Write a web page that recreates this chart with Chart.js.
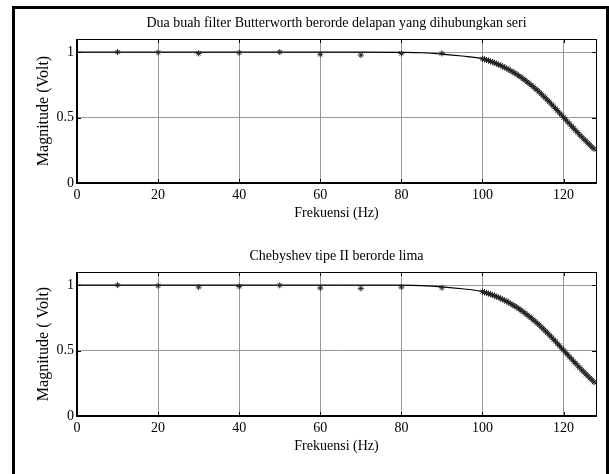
<!DOCTYPE html>
<html>
<head>
<meta charset="utf-8">
<script src="https://cdn.jsdelivr.net/npm/chart.js@4.4.1/dist/chart.umd.min.js"></script>
<style>
  html, body { margin: 0; padding: 0; background: #fff; }
  body { width: 609px; height: 474px; position: relative; overflow: hidden; }
  .plot { position: absolute; left: 0; width: 609px; height: 233px; }
  #frame { position: absolute; left: 12px; top: 6px; width: 591px; height: 480px; border: 3px solid #000; pointer-events: none; }
</style>
</head>
<body>
<div class="plot" style="top:0"><canvas id="butter-chart" width="609" height="233"></canvas></div>
<div class="plot" style="top:233px"><canvas id="cheby-chart" width="609" height="233"></canvas></div>
<div id="frame"></div>
<script>
// frequencies of the measured points (Hz)
const markerFreq = [10, 20, 30, 40, 50, 60, 70, 80, 90,
  100, 100.5, 101, 101.5, 102, 102.5, 103, 103.5, 104, 104.5,
  105, 105.5, 106, 106.5, 107, 107.5, 108, 108.5, 109, 109.5,
  110, 110.5, 111, 111.5, 112, 112.5, 113, 113.5, 114, 114.5,
  115, 115.5, 116, 116.5, 117, 117.5, 118, 118.5, 119, 119.5,
  120, 120.5, 121, 121.5, 122, 122.5, 123, 123.5, 124, 124.5,
  125, 125.5, 126, 126.5, 127, 127.5];

// measured magnitude, Butterworth (top)
const butterMarkers = [1.0, 0.997, 0.99, 0.995, 1.0, 0.983, 0.977, 0.99, 0.99,
  0.948, 0.946, 0.939, 0.936, 0.929, 0.925, 0.917, 0.912, 0.903, 0.899,
  0.889, 0.884, 0.873, 0.867, 0.856, 0.849, 0.838, 0.830, 0.817, 0.809,
  0.796, 0.786, 0.772, 0.762, 0.748, 0.737, 0.721, 0.710, 0.694, 0.681,
  0.664, 0.651, 0.634, 0.620, 0.602, 0.587, 0.569, 0.554, 0.535, 0.520,
  0.501, 0.486, 0.467, 0.452, 0.433, 0.418, 0.400, 0.385, 0.367, 0.353,
  0.335, 0.322, 0.304, 0.291, 0.274, 0.261];

// measured magnitude, Chebyshev II (bottom)
const chebyMarkers = [1.0, 0.995, 0.985, 0.99, 0.998, 0.978, 0.975, 0.985, 0.98,
  0.950, 0.944, 0.941, 0.934, 0.931, 0.923, 0.919, 0.910, 0.906, 0.897,
  0.891, 0.882, 0.876, 0.865, 0.858, 0.847, 0.840, 0.828, 0.820, 0.807,
  0.798, 0.784, 0.774, 0.760, 0.750, 0.735, 0.723, 0.708, 0.696, 0.679,
  0.666, 0.649, 0.636, 0.618, 0.604, 0.585, 0.571, 0.552, 0.537, 0.518,
  0.503, 0.484, 0.469, 0.450, 0.435, 0.416, 0.402, 0.383, 0.369, 0.351,
  0.337, 0.320, 0.306, 0.289, 0.276, 0.259];

// theoretical response curve
const curveFreq = [0, 10, 20, 30, 40, 50, 60, 70, 80, 85, 90, 95,
  100, 102, 104, 106, 108, 110, 112, 114, 116, 118, 120, 122, 124, 126, 128];
const butterCurve = [1, 1, 1, 1, 1, 1, 1, 1, 0.998, 0.995, 0.985, 0.97,
  0.95, 0.93, 0.905, 0.875, 0.839, 0.797, 0.749, 0.695, 0.635, 0.57, 0.502, 0.434, 0.368, 0.305, 0.245];
const chebyCurve = [1, 1, 1, 1, 1, 1, 1, 1, 0.999, 0.996, 0.987, 0.972,
  0.95, 0.93, 0.905, 0.875, 0.839, 0.797, 0.749, 0.695, 0.635, 0.57, 0.502, 0.434, 0.368, 0.305, 0.245];

const xTicks = [0, 20, 40, 60, 80, 100, 120];
const yTicks = [0, 0.5, 1];

Chart.defaults.font.family = "'Liberation Serif', 'DejaVu Serif', serif";
Chart.defaults.color = "#000";

const serif = (size) => ({ family: "'Liberation Serif', serif", size: size, weight: "normal" });

// MATLAB-like box with inward ticks
const boxPlugin = {
  id: "box",
  afterDraw(chart) {
    const { ctx, chartArea: a } = chart;
    const xs = chart.scales.x;
    const ys = chart.scales.y;
    ctx.save();
    ctx.strokeStyle = "#000";
    ctx.lineWidth = 1;
    ctx.strokeRect(a.left + 0.5, a.top + 0.5, a.right - a.left, a.bottom - a.top);
    ctx.beginPath();
    xTicks.forEach((v) => {
      const px = Math.round(xs.getPixelForValue(v)) + 0.5;
      ctx.moveTo(px, a.top);
      ctx.lineTo(px, a.top + 4);
      ctx.moveTo(px, a.bottom);
      ctx.lineTo(px, a.bottom - 4);
    });
    yTicks.forEach((v) => {
      const py = Math.round(ys.getPixelForValue(v)) + 0.5;
      ctx.moveTo(a.left, py);
      ctx.lineTo(a.left + 4, py);
      ctx.moveTo(a.right, py);
      ctx.lineTo(a.right - 4, py);
    });
    ctx.stroke();
    ctx.lineWidth = 2;
    ctx.beginPath();
    ctx.moveTo(a.left, a.top);
    ctx.lineTo(a.left, a.bottom);
    ctx.lineTo(a.right + 1, a.bottom);
    ctx.stroke();
    ctx.restore();
  },
};

function makeConfig(title, yTitle, markers, curve) {
  return {
    type: "scatter",
    data: {
      datasets: [
        {
          label: "pengukuran",
          data: markerFreq.map((f, i) => ({ x: f, y: markers[i] })),
          showLine: false,
          pointStyle: "star",
          pointRadius: 3,
          pointBorderWidth: 1,
          borderColor: "#222",
          backgroundColor: "#222",
        },
        {
          label: "respon",
          data: curveFreq.map((f, i) => ({ x: f, y: curve[i] })),
          showLine: true,
          pointRadius: 0,
          borderColor: "#000",
          borderWidth: 1.2,
          cubicInterpolationMode: "monotone",
        },
      ],
    },
    options: {
      responsive: false,
      animation: false,
      layout: { padding: { top: 0, right: 13, bottom: 0, left: 0 } },
      plugins: {
        legend: { display: false },
        tooltip: { enabled: false },
        title: {
          display: true,
          text: title,
          color: "#000",
          font: serif(14),
          fullSize: false,
          padding: { top: 15, bottom: 7.2 },
        },
      },
      scales: {
        x: {
          type: "linear",
          min: 0,
          max: 128,
          afterBuildTicks: (s) => { s.ticks = xTicks.map((v) => ({ value: v })); },
          afterFit: (s) => { s.height = 50; },
          grid: { color: "#999", lineWidth: 1, drawTicks: false },
          border: { display: false },
          ticks: { padding: 3.6, font: serif(14), color: "#000", maxRotation: 0, autoSkip: false },
          title: { display: true, text: "Frekuensi (Hz)", font: serif(14), color: "#000", padding: { top: 0, bottom: 11.6 } },
        },
        y: {
          min: 0,
          max: 1.1,
          afterBuildTicks: (s) => { s.ticks = yTicks.map((v) => ({ value: v })); },
          afterFit: (s) => { s.width = 77; },
          grid: { color: "#999", lineWidth: 1, drawTicks: false },
          border: { display: false },
          ticks: { padding: 3, font: serif(14), color: "#000", callback: (v) => String(v) },
          title: { display: true, text: yTitle, font: serif(16), color: "#000", padding: { top: 34, bottom: 0 } },
        },
      },
    },
    plugins: [boxPlugin],
  };
}

new Chart(document.getElementById("butter-chart"),
  makeConfig("Dua buah filter Butterworth berorde delapan yang dihubungkan seri", "Magnitude (Volt)", butterMarkers, butterCurve));
new Chart(document.getElementById("cheby-chart"),
  makeConfig("Chebyshev tipe II berorde lima", "Magnitude ( Volt)", chebyMarkers, chebyCurve));
</script>
</body>
</html>
